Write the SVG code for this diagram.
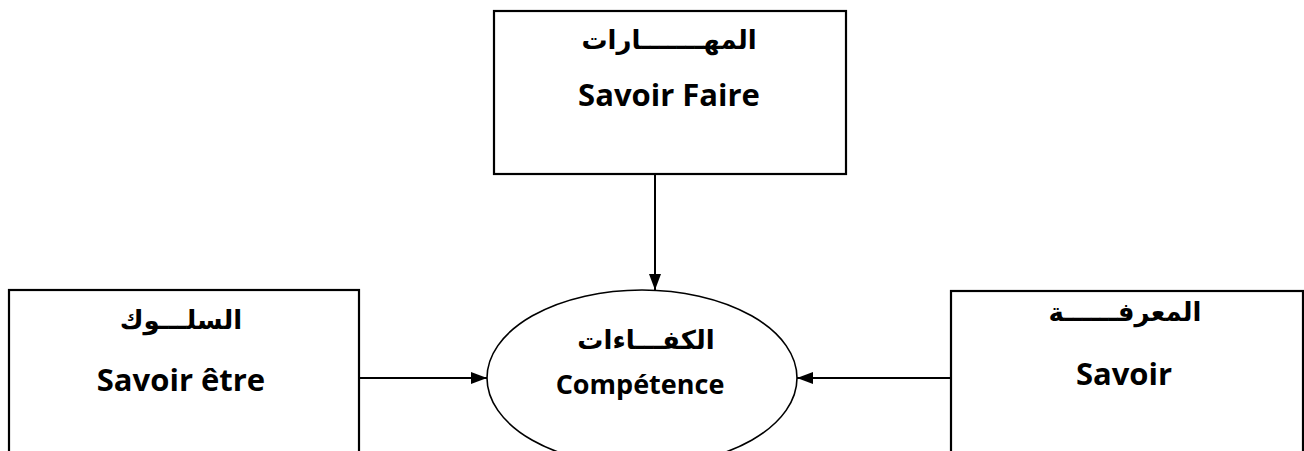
<svg xmlns="http://www.w3.org/2000/svg" width="1304" height="451" viewBox="0 0 1304 451">
<style>
.box{fill:#fff;stroke:#000;stroke-width:2.2}
.ell{fill:#fff;stroke:#000;stroke-width:1.6}
.conn{stroke:#000;stroke-width:2;fill:none}
.ar{font-family:"DejaVu Sans",sans-serif;font-weight:bold;font-size:26px;text-anchor:middle;fill:#000}
.fr{font-family:"Open Sans",sans-serif;font-weight:bold;font-size:31px;text-anchor:middle;fill:#000}
.frs{font-family:"Open Sans",sans-serif;font-weight:bold;font-size:27px;text-anchor:middle;fill:#000}
</style>
<defs>
<marker id="ah" markerWidth="16" markerHeight="12" refX="16" refY="6" orient="auto" markerUnits="userSpaceOnUse">
<path d="M0,0 L16,6 L0,12 Z" fill="#000"/>
</marker>
</defs>
<rect width="1304" height="451" fill="#fff"/>
<g id="node-savoir-faire">
<rect class="box" x="494" y="11" width="352" height="163"/>
<text class="ar" x="669" y="49">المهـــــــارات</text>
<text class="fr" x="669" y="106">Savoir Faire</text>
</g>
<g id="node-savoir-etre">
<rect class="box" x="9" y="290" width="350" height="180"/>
<text class="ar" x="181" y="329">السلـــوك</text>
<text class="fr" x="181" y="391">Savoir être</text>
</g>
<g id="node-savoir">
<rect class="box" x="951" y="291" width="352" height="180"/>
<text class="ar" x="1125" y="321">المعرفــــــة</text>
<text class="fr" x="1124" y="385">Savoir</text>
</g>
<g id="node-competence">
<ellipse class="ell" cx="642" cy="378" rx="155" ry="88"/>
<text class="ar" x="646" y="349">الكفـــاءات</text>
<text class="frs" x="640" y="394">Compétence</text>
</g>
<g id="connectors">
<line class="conn" x1="655" y1="174" x2="655" y2="290" marker-end="url(#ah)"/>
<line class="conn" x1="359" y1="378" x2="487" y2="378" marker-end="url(#ah)"/>
<line class="conn" x1="951" y1="378" x2="797" y2="378" marker-end="url(#ah)"/>
</g>
</svg>
